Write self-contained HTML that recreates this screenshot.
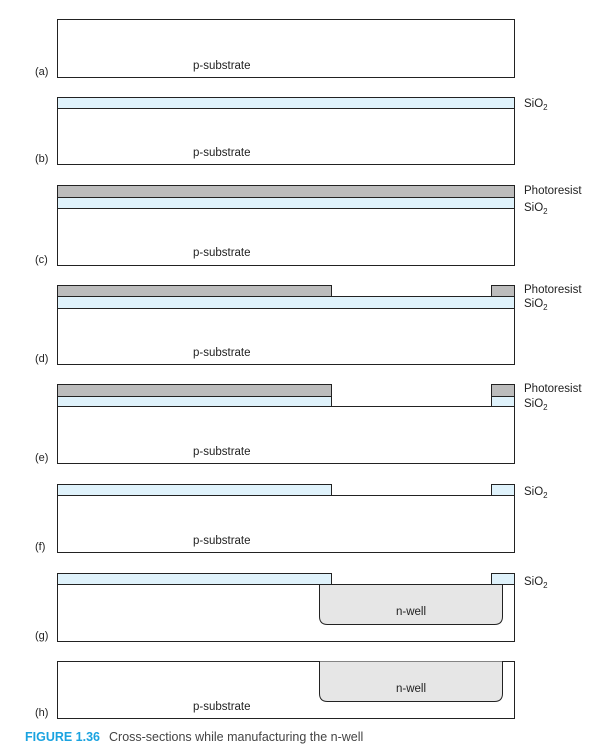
<!DOCTYPE html>
<html><head><meta charset="utf-8"><style>
body{margin:0;background:#fff;width:599px;height:754px;overflow:hidden}
svg{display:block;font-family:"Liberation Sans",sans-serif}
</style></head><body>
<svg width="599" height="754">
<g fill="#222" font-size="11.5">
<g>
<rect x="57.5" y="19.5" width="457" height="58" fill="#fff" stroke="#222"/>
<text x="35" y="75" font-size="11">(a)</text>
<text x="193" y="69">p-substrate</text>
</g>
<g>
<rect x="57.5" y="97.5" width="457" height="11" fill="#dff2fb" stroke="#222"/>
<rect x="57.5" y="108.5" width="457" height="56" fill="#fff" stroke="#222"/>
<text x="35" y="162" font-size="11">(b)</text>
<text x="193" y="156">p-substrate</text>
<text x="524" y="107">SiO<tspan font-size="8" dy="3">2</tspan></text>
</g>
<g>
<rect x="57.5" y="185.5" width="457" height="12" fill="#bcbcbc" stroke="#222"/>
<rect x="57.5" y="197.5" width="457" height="11" fill="#dff2fb" stroke="#222"/>
<rect x="57.5" y="208.5" width="457" height="57" fill="#fff" stroke="#222"/>
<text x="35" y="263" font-size="11">(c)</text>
<text x="193" y="256">p-substrate</text>
<text x="524" y="194">Photoresist</text>
<text x="524" y="211">SiO<tspan font-size="8" dy="3">2</tspan></text>
</g>
<g>
<rect x="57.5" y="285.5" width="274" height="11" fill="#bcbcbc" stroke="#222"/>
<rect x="491.5" y="285.5" width="23" height="11" fill="#bcbcbc" stroke="#222"/>
<rect x="57.5" y="296.5" width="457" height="12" fill="#dff2fb" stroke="#222"/>
<rect x="57.5" y="308.5" width="457" height="56" fill="#fff" stroke="#222"/>
<text x="35" y="362" font-size="11">(d)</text>
<text x="193" y="356">p-substrate</text>
<text x="524" y="293">Photoresist</text>
<text x="524" y="307">SiO<tspan font-size="8" dy="3">2</tspan></text>
</g>
<g>
<rect x="57.5" y="384.5" width="274" height="12" fill="#bcbcbc" stroke="#222"/>
<rect x="491.5" y="384.5" width="23" height="12" fill="#bcbcbc" stroke="#222"/>
<rect x="57.5" y="396.5" width="274" height="10" fill="#dff2fb" stroke="#222"/>
<rect x="491.5" y="396.5" width="23" height="10" fill="#dff2fb" stroke="#222"/>
<rect x="57.5" y="406.5" width="457" height="57" fill="#fff" stroke="#222"/>
<text x="35" y="461" font-size="11">(e)</text>
<text x="193" y="455">p-substrate</text>
<text x="524" y="392">Photoresist</text>
<text x="524" y="407">SiO<tspan font-size="8" dy="3">2</tspan></text>
</g>
<g>
<rect x="57.5" y="484.5" width="274" height="11" fill="#dff2fb" stroke="#222"/>
<rect x="491.5" y="484.5" width="23" height="11" fill="#dff2fb" stroke="#222"/>
<rect x="57.5" y="495.5" width="457" height="57" fill="#fff" stroke="#222"/>
<text x="35" y="550" font-size="11">(f)</text>
<text x="193" y="544">p-substrate</text>
<text x="524" y="495">SiO<tspan font-size="8" dy="3">2</tspan></text>
</g>
<g>
<rect x="57.5" y="573.5" width="274" height="11" fill="#dff2fb" stroke="#222"/>
<rect x="491.5" y="573.5" width="23" height="11" fill="#dff2fb" stroke="#222"/>
<rect x="57.5" y="584.5" width="457" height="57" fill="#fff" stroke="#222"/>
<path d="M319.5 584.5 V616.5 Q319.5 624.5 327.5 624.5 H494.5 Q502.5 624.5 502.5 616.5 V584.5" fill="#e6e6e6" stroke="#222"/>
<line x1="319.5" y1="584.5" x2="502.5" y2="584.5" stroke="#222"/>
<text x="35" y="639" font-size="11">(g)</text>
<text x="396" y="615">n-well</text>
<text x="524" y="585">SiO<tspan font-size="8" dy="3">2</tspan></text>
</g>
<g>
<rect x="57.5" y="661.5" width="457" height="57" fill="#fff" stroke="#222"/>
<path d="M319.5 661.5 V693.5 Q319.5 701.5 327.5 701.5 H494.5 Q502.5 701.5 502.5 693.5 V661.5" fill="#e6e6e6" stroke="#222"/>
<text x="35" y="716" font-size="11">(h)</text>
<text x="193" y="710">p-substrate</text>
<text x="396" y="692">n-well</text>
</g>
</g>
<text x="25" y="741" font-size="12.5" fill="#444"><tspan fill="#1aa3e0" font-weight="bold" font-size="12.5" textLength="75" lengthAdjust="spacingAndGlyphs">FIGURE 1.36</tspan><tspan x="109">Cross-sections while manufacturing the n-well</tspan></text>
</svg>
</body></html>
